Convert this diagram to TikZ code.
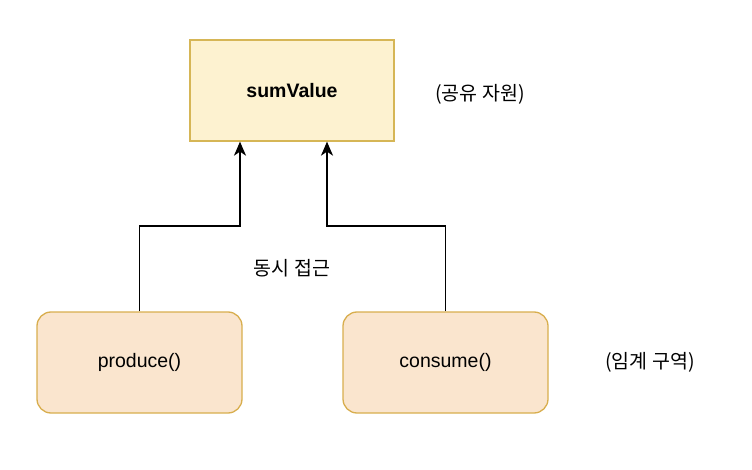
\documentclass[tikz,border=0pt]{standalone}
\usepackage{fontspec}
\setmainfont{Liberation Sans}
\newfontfamily\krfont{Noto Sans CJK KR}
\usetikzlibrary{arrows.meta}
\definecolor{sharefill}{HTML}{FDF2D0}
\definecolor{sharedraw}{HTML}{D6B656}
\definecolor{taskfill}{HTML}{FAE5CE}
\definecolor{taskdraw}{HTML}{D8AE4E}
\tikzset{
  shared/.style={draw=sharedraw, fill=sharefill, line width=1.3pt,
    minimum width=204pt, minimum height=101pt, font=\fontsize{19.5}{23}\selectfont\bfseries},
  task/.style={draw=taskdraw, fill=taskfill, line width=1.3pt, rounded corners=14pt,
    minimum width=205pt, minimum height=101pt, font=\fontsize{19.5}{23}\selectfont},
  note/.style={font=\fontsize{19.5}{23}\selectfont\krfont},
  access/.style={line width=1.5pt, -{Stealth[length=14pt,width=12pt,inset=4pt]}}}
\begin{document}
\begin{tikzpicture}[x=1pt, y=-1pt]
      \useasboundingbox (0,0) rectangle (752,470);

      \node [shared] (sum) at (292, 90.5) {sumValue};
      \node [note] (sharelabel) at (480, 94) {(공유 자원)};

      \node [task] (prod) at (139.5, 362.5) {produce()};
      \node [task] (cons) at (445.5, 362.5) {consume()};
      \node [note] (critlabel) at (650, 362) {(임계 구역)};

      \node [note] (racelabel) at (292, 268) {동시 접근};

      \coordinate (j1) at (240, 226);
      \coordinate (j2) at (327, 226);
      \draw [access] (prod.north) |- (j1) -- (j1 |- sum.south);
      \draw [access] (cons.north) |- (j2) -- (j2 |- sum.south);
    \end{tikzpicture}
\end{document}
